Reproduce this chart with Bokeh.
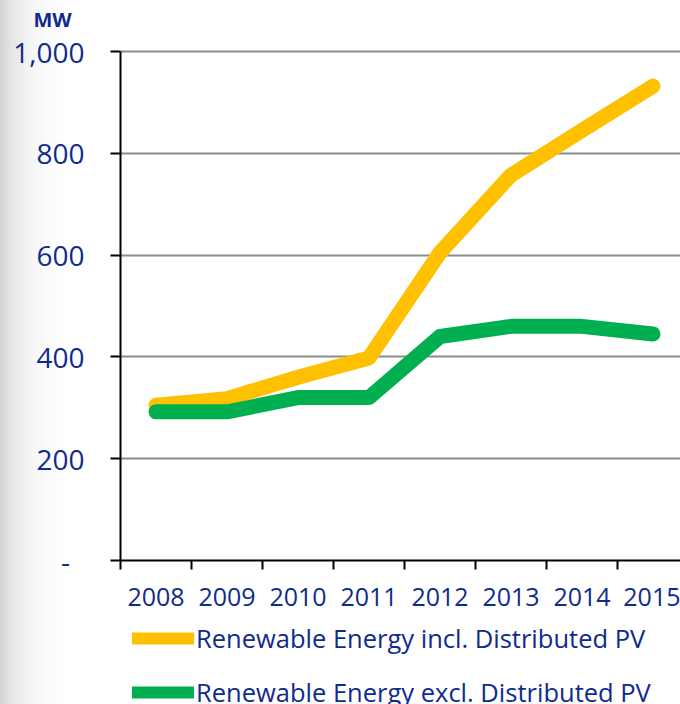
from bokeh.plotting import figure
from bokeh.layouts import column
from bokeh.models import (Range1d, FixedTicker, Legend, LegendItem, Title,
                          GlobalInlineStyleSheet)
from bokeh.embed import file_html
from bokeh.resources import INLINE

# ---- data ----
years = ["2008", "2009", "2010", "2011", "2012", "2013", "2014", "2015"]
incl_pv = [305, 318, 360, 398, 605, 757, 845, 932]
excl_pv = [292, 292, 320, 320, 440, 460, 460, 445]
y_ticks = [0, 200, 400, 600, 800, 1000]
y_tick_labels = ["-\u00a0\u00a0", "200", "400", "600", "800", "1,000"]
series_names = ["Renewable Energy incl. Distributed PV",
                "Renewable Energy excl. Distributed PV"]

TEXT = "#0F2B8C"
YELLOW = "#FFC000"
GREEN = "#00B050"
FONT = "Open Sans"
NAN = float("nan")

x_centers = [i + 0.5 for i in range(len(years))]

css = GlobalInlineStyleSheet(css="""
body { background: linear-gradient(to right, #d2d2d2 0px, #e6e6e6 12px, #f6f6f6 32px, #ffffff 62px); }
""")

# main chart: frame from y=35 to y=560, value 1000 lands at y=51
H1 = 622
FRAME_TOP = 35
y_max = max(y_ticks)
y_end = y_max * (560 - FRAME_TOP) / (560 - 51)

p = figure(width=680, height=H1, output_backend="svg", toolbar_location=None,
           x_range=Range1d(0, 560 / 71), y_range=Range1d(0, y_end),
           min_border_left=120, min_border_right=0, min_border_top=FRAME_TOP,
           min_border_bottom=H1 - 560, stylesheets=[css])
p.border_fill_color = None
p.background_fill_color = "white"
p.outline_line_color = None

# title "MW"
p.title = Title(text="MW", align="left", offset=-87, text_font=FONT,
                text_font_size="20px", text_font_style="bold",
                text_color=TEXT, standoff=5)

# lines
r1 = p.line(x_centers, incl_pv, line_color=YELLOW, line_width=15,
            line_cap="round", line_join="round")
r2 = p.line(x_centers, excl_pv, line_color=GREEN, line_width=15,
            line_cap="round", line_join="round")

# y axis
ya = p.yaxis[0]
ya.bounds = (0, y_max)
ya.ticker = FixedTicker(ticks=y_ticks)
ya.major_label_overrides = {t: l for t, l in zip(y_ticks, y_tick_labels)}
ya.axis_line_color = "black"
ya.axis_line_width = 2
ya.major_tick_line_color = "black"
ya.major_tick_line_width = 2
ya.major_tick_out = 10
ya.major_tick_in = 0
ya.minor_tick_line_color = None
ya.major_label_standoff = 26
ya.major_label_text_font = FONT
ya.major_label_text_font_size = "28px"
ya.major_label_text_color = TEXT

# x axis
xa = p.xaxis[0]
xa.ticker = FixedTicker(ticks=x_centers, minor_ticks=list(range(len(years) + 1)))
xa.major_label_overrides = {c: y for c, y in zip(x_centers, years)}
xa.axis_line_color = "black"
xa.axis_line_width = 2
xa.major_tick_line_color = None
xa.major_tick_out = 0
xa.major_tick_in = 0
xa.minor_tick_line_color = "black"
xa.minor_tick_line_width = 2
xa.minor_tick_out = 9
xa.minor_tick_in = 0
xa.major_label_standoff = 18
xa.major_label_text_font = FONT
xa.major_label_text_font_size = "25px"
xa.major_label_text_color = TEXT

p.xgrid.grid_line_color = None
p.ygrid.ticker = FixedTicker(ticks=y_ticks[1:])
p.ygrid.grid_line_color = "#8C8C8C"
p.ygrid.grid_line_width = 2

# legend in its own strip below the chart
H2 = 704 - H1
pl = figure(width=680, height=H2, output_backend="svg", toolbar_location=None,
            x_range=Range1d(0, 1), y_range=Range1d(0, 1),
            min_border_left=120, min_border_right=0, min_border_top=0,
            min_border_bottom=0)
pl.border_fill_color = None
pl.background_fill_alpha = 0
pl.outline_line_color = None
pl.axis.visible = False
pl.grid.visible = False
l1 = pl.line([NAN], [NAN], line_color=YELLOW, line_width=12, line_cap="round")
l2 = pl.line([NAN], [NAN], line_color=GREEN, line_width=12, line_cap="round")
legend = Legend(items=[LegendItem(label=series_names[0], renderers=[l1]),
                       LegendItem(label=series_names[1], renderers=[l2])],
                location=(12, -6), orientation="vertical",
                glyph_width=62, glyph_height=36, label_height=36,
                label_standoff=2, spacing=18, padding=0, margin=0,
                border_line_color=None, background_fill_alpha=0,
                label_text_font=FONT, label_text_font_size="25.5px",
                label_text_color=TEXT)
pl.add_layout(legend, "center")

layout = column(p, pl, spacing=0)
open("out.html", "w").write(file_html(layout, INLINE))
